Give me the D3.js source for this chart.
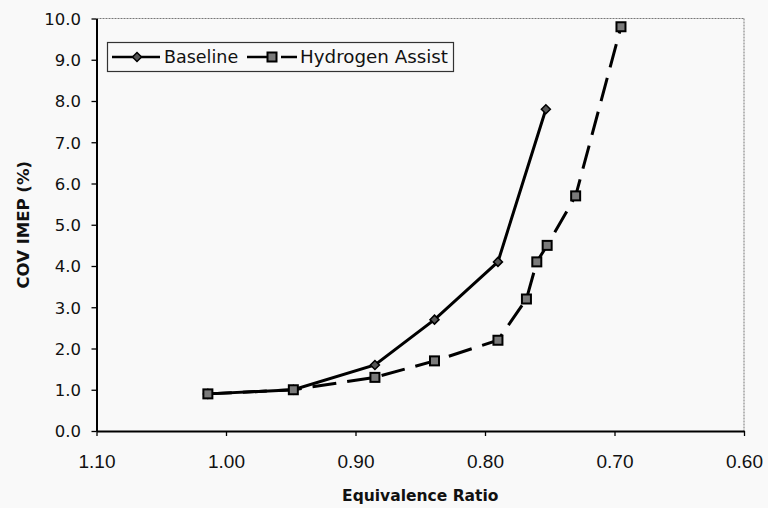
<!DOCTYPE html>
<html>
<head>
<meta charset="utf-8">
<script src="https://cdn.jsdelivr.net/npm/d3@7"></script>
<style>
  html, body { margin: 0; padding: 0; background: #f9f9f9; }
  svg { display: block; }
</style>
</head>
<body>
<svg id="chart" width="768" height="508"></svg>
<script>
// ---- Data ----
const baselinePhi = [1.014, 0.948, 0.885, 0.839, 0.790, 0.753];
const baselineCov = [0.9, 1.0, 1.6, 2.7, 4.1, 7.8];
const hydrogenPhi = [1.014, 0.948, 0.885, 0.839, 0.790, 0.768, 0.760, 0.752, 0.730, 0.695];
const hydrogenCov = [0.9, 1.0, 1.3, 1.7, 2.2, 3.2, 4.1, 4.5, 5.7, 9.8];
const xTicks = [1.10, 1.00, 0.90, 0.80, 0.70, 0.60];
const yTicks = [0, 1, 2, 3, 4, 5, 6, 7, 8, 9, 10];
const seriesNames = ["Baseline", "Hydrogen Assist"];
const xTitle = "Equivalence Ratio";
const yTitle = "COV IMEP (%)";

// ---- Layout ----
const svg = d3.select("#chart");
const L = 96.5, R = 744, T = 18.5, B = 431;

const x = d3.scaleLinear().domain([1.10, 0.60]).range([L, R]);
const y = d3.scaleLinear().domain([0, 10]).range([B, T]);

svg.append("rect").attr("width", 768).attr("height", 508).attr("fill", "#f9f9f9");

// frame top/right
svg.append("line").attr("x1", L).attr("x2", R).attr("y1", T).attr("y2", T)
  .attr("stroke", "#777").attr("stroke-width", 1).attr("stroke-dasharray", "2,1");
svg.append("line").attr("x1", R).attr("x2", R).attr("y1", T).attr("y2", B)
  .attr("stroke", "#777").attr("stroke-width", 1).attr("stroke-dasharray", "2,1");

// axes
const xAxis = d3.axisBottom(x).tickValues(xTicks).tickSize(5).tickSizeOuter(0)
  .tickFormat(d3.format(".2f"));
const gx = svg.append("g").attr("transform", `translate(0,${B})`).call(xAxis);
gx.select(".domain").attr("stroke", "#000").attr("stroke-width", 2);
gx.selectAll(".tick line").attr("stroke", "#000").attr("stroke-width", 1.3);
gx.selectAll(".tick text").attr("font-family", "Liberation Sans, Arial, sans-serif")
  .attr("font-size", 19).attr("fill", "#111").attr("y", 0).attr("dy", 0)
  .attr("transform", "translate(0,37)");

const yAxis = d3.axisLeft(y).tickValues(yTicks).tickSize(5).tickSizeOuter(0)
  .tickFormat(d3.format(".1f"));
const gy = svg.append("g").attr("transform", `translate(${L},0)`).call(yAxis);
gy.select(".domain").attr("stroke", "#000").attr("stroke-width", 2);
gy.selectAll(".tick line").attr("stroke", "#000").attr("stroke-width", 1.3);
gy.selectAll(".tick text").attr("font-family", "DejaVu Sans, sans-serif")
  .attr("font-size", 16.5).attr("fill", "#111").attr("x", -15.5).attr("dy", "0.36em");

// titles
svg.append("text").attr("x", (L + R) / 2).attr("y", 501)
  .attr("text-anchor", "middle").attr("font-family", "DejaVu Sans, sans-serif")
  .attr("font-weight", "bold").attr("font-size", 15.5).attr("fill", "#111").text(xTitle);
svg.append("text").attr("transform", `translate(29,${(T + B) / 2}) rotate(-90)`)
  .attr("text-anchor", "middle").attr("font-family", "DejaVu Sans, sans-serif")
  .attr("font-weight", "bold").attr("font-size", 16.5).attr("fill", "#111").text(yTitle);

// ---- Series ----
const baseData = baselinePhi.map((p, i) => [p, baselineCov[i]]);
const h2Data = hydrogenPhi.map((p, i) => [p, hydrogenCov[i]]);
const line = d3.line().x(d => x(d[0])).y(d => y(d[1]));

const diamond = "M0,-4.5L4.5,0L0,4.5L-4.5,0Z";

svg.append("path").datum(baseData).attr("d", line).attr("fill", "none")
  .attr("stroke", "#000").attr("stroke-width", 3);
svg.selectAll(".bm").data(baseData).enter().append("path")
  .attr("transform", d => `translate(${x(d[0])},${y(d[1])})`)
  .attr("d", diamond).attr("fill", "#555").attr("stroke", "#000").attr("stroke-width", 1.5);

svg.append("path").datum(h2Data).attr("d", line).attr("fill", "none")
  .attr("stroke", "#000").attr("stroke-width", 3).attr("stroke-dasharray", "24,11");
svg.selectAll(".hm").data(h2Data).enter().append("rect")
  .attr("x", d => x(d[0]) - 4.5).attr("y", d => y(d[1]) - 4.5)
  .attr("width", 9).attr("height", 9)
  .attr("fill", "#7a7a7a").attr("stroke", "#000").attr("stroke-width", 2);

// ---- Legend ----
const lg = svg.append("g");
lg.append("rect").attr("x", 107.5).attr("y", 42.5).attr("width", 346).attr("height", 29)
  .attr("fill", "#f9f9f9").attr("stroke", "#333").attr("stroke-width", 1.2);
const ly = 57;
lg.append("line").attr("x1", 112).attr("x2", 160).attr("y1", ly).attr("y2", ly)
  .attr("stroke", "#000").attr("stroke-width", 2.5);
lg.append("path").attr("transform", `translate(137,${ly})`).attr("d", diamond)
  .attr("fill", "#555").attr("stroke", "#000").attr("stroke-width", 1.5);
lg.append("text").attr("x", 164).attr("y", ly + 6.3).attr("font-family", "DejaVu Sans, sans-serif")
  .attr("font-size", 17.5).attr("fill", "#111").text(seriesNames[0]);

lg.append("line").attr("x1", 247).attr("x2", 297).attr("y1", ly).attr("y2", ly)
  .attr("stroke", "#000").attr("stroke-width", 2.5).attr("stroke-dasharray", "22,12");
lg.append("rect").attr("x", 267.5).attr("y", ly - 4.5).attr("width", 9).attr("height", 9)
  .attr("fill", "#7a7a7a").attr("stroke", "#000").attr("stroke-width", 2);
lg.append("text").attr("x", 300).attr("y", ly + 6.3).attr("font-family", "DejaVu Sans, sans-serif")
  .attr("font-size", 17.5).attr("fill", "#111")
  .attr("textLength", 148).attr("lengthAdjust", "spacingAndGlyphs").text(seriesNames[1]);
</script>
</body>
</html>
